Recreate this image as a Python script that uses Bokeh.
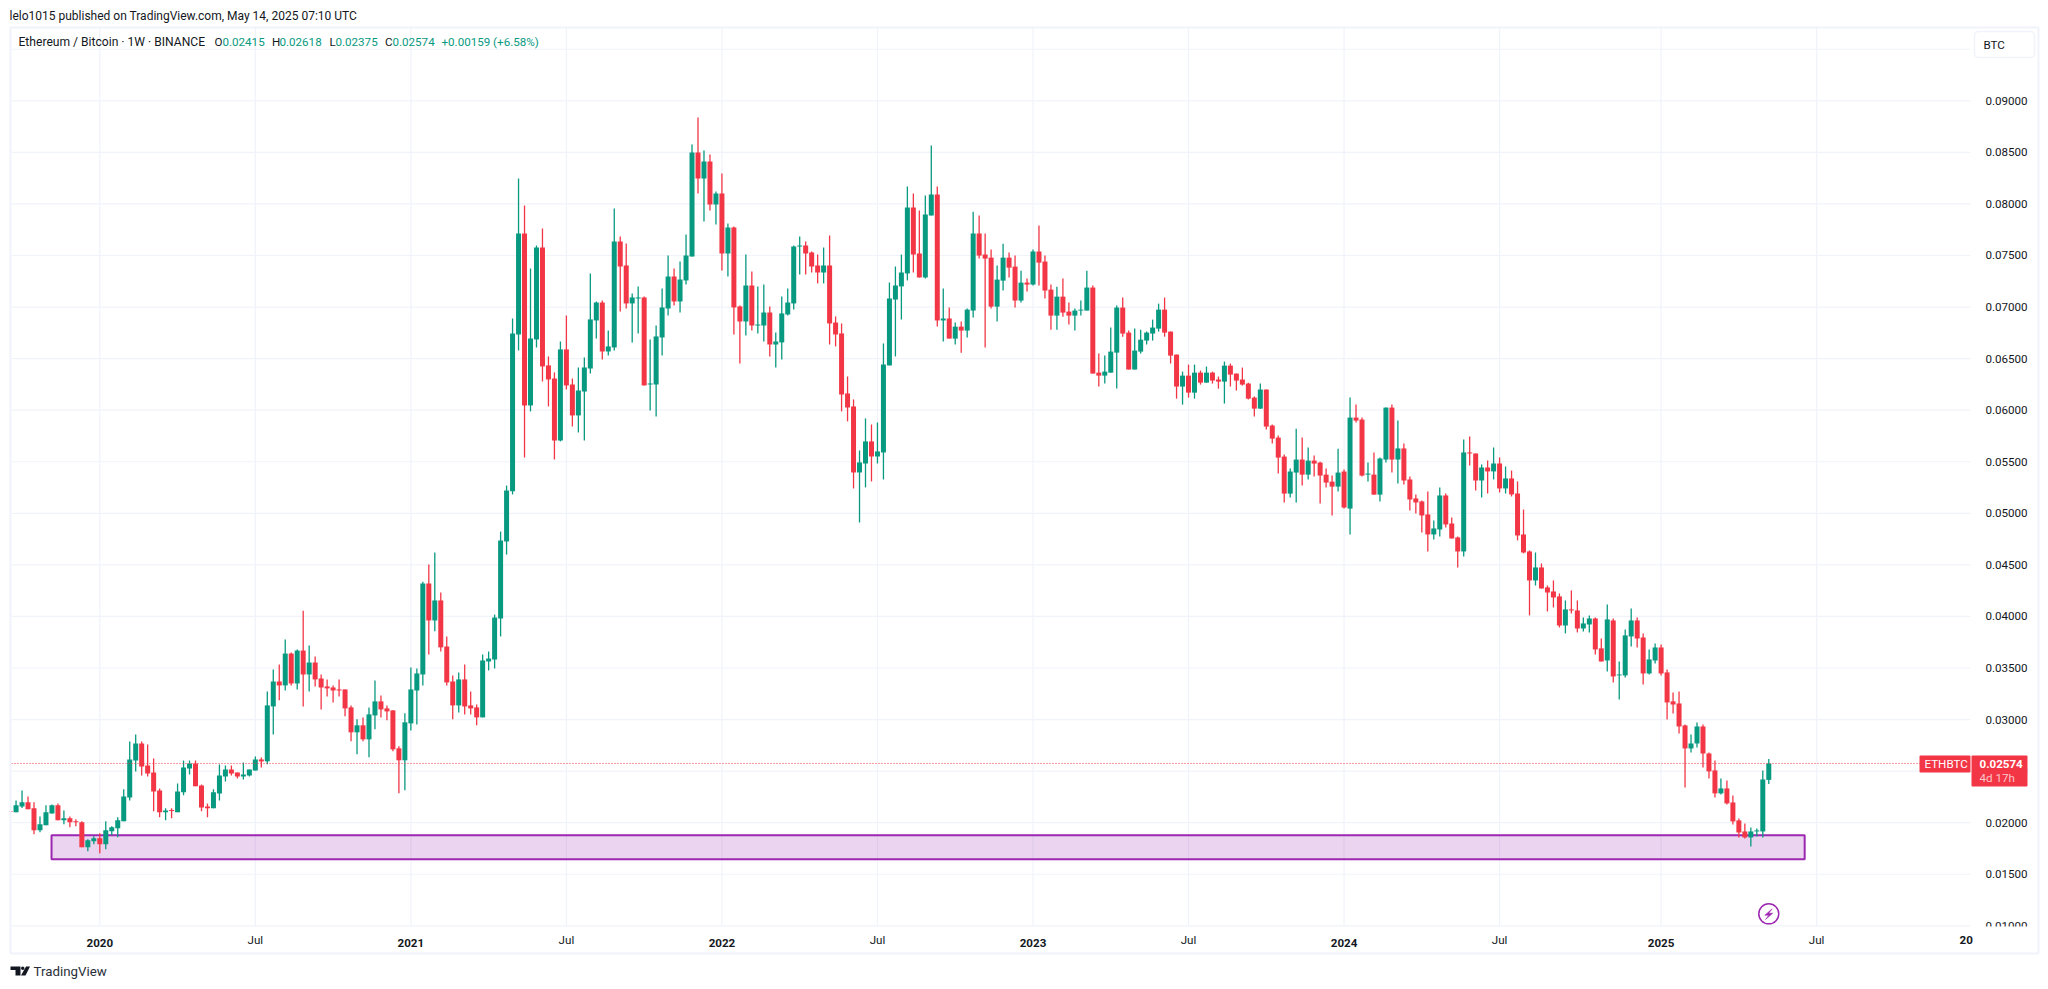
from bokeh.plotting import figure
from bokeh.embed import file_html
from bokeh.resources import INLINE
from bokeh.models import (ColumnDataSource, FixedTicker, Label, BoxAnnotation, PolyAnnotation,
                          NumeralTickFormatter, Range1d, LabelSet)
import numpy as np

# Weekly ETH/BTC candles, in units of 0.00001 BTC, one entry per week from 2019-09-23
opens = [2110,2100,2158,2197,2139,1926,1974,2090,2168,2023,
2042,2013,2003,1761,1819,1848,1790,1916,1945,2013,
2245,2603,2768,2555,2487,2313,2100,2122,2100,2294,
2526,2574,2361,2158,2139,2284,2448,2516,2487,2448,
2458,2506,2613,2595,3127,3369,3331,3640,3350,3669,
3437,3553,3398,3321,3311,3292,3292,3118,2876,2944,
2808,3040,3176,3108,3089,2721,2605,2963,3282,3437,
4319,3961,4155,3708,3369,3137,3389,3137,3118,3021,
3563,3582,3980,4727,5215,6734,7713,6046,6686,7578,
6434,6307,5706,6589,6249,5949,6181,6404,6870,7044,
6569,6608,7636,7403,7035,7083,7093,6249,6249,6705,
6986,7296,7054,7258,7490,8499,8247,8412,7995,8101,
7520,7772,7006,6860,7209,6821,6821,6947,6637,6657,
6928,7035,7587,7597,7529,7403,7335,7403,6850,6744,
6162,6036,5396,5483,5697,5551,5590,6434,7073,7200,
7326,7966,7520,7287,7888,8092,6870,6889,6694,6810,
6772,6966,7712,7509,7479,7004,7256,7479,7392,7063,
7237,7218,7538,7441,7169,6917,7101,6956,6917,6966,
6966,7189,6364,6335,6364,6558,6995,6752,6394,6568,
6675,6743,6791,6975,6762,6539,6229,6335,6170,6364,
6267,6364,6297,6277,6432,6355,6297,6258,6122,6015,
6200,5851,5734,5550,5191,5395,5521,5375,5511,5492,
5375,5307,5259,5405,5046,5928,5909,5375,5375,5181,
5521,6025,5521,5629,5328,5144,5115,4989,4795,4843,
5173,4901,4766,4630,5590,5580,5318,5444,5406,5483,
5241,5338,5192,4795,4630,4349,4475,4281,4242,4194,
3912,4068,4058,3883,3922,3980,3690,3573,3961,3428,
3428,3806,3961,3796,3447,3573,3699,3457,3176,3156,
2943,2720,2768,2933,2671,2507,2284,2332,2196,2022,
1915,1857,1915,1915,2415]
highs = [2110,2216,2313,2255,2197,2061,2168,2177,2187,2119,
2061,2032,2013,1839,1868,1897,2013,1965,2052,2323,
2787,2855,2787,2758,2623,2332,2139,2139,2381,2603,
2603,2603,2371,2187,2323,2565,2555,2555,2487,2584,
2516,2642,2632,3273,3485,3534,3776,3650,3679,4056,
3718,3611,3437,3389,3331,3389,3292,3137,3002,3021,
3118,3379,3234,3137,3089,2740,3060,3505,3495,4336,
4504,4619,4232,3805,3427,3456,3534,3273,3147,3631,
3660,4018,4823,5269,6889,8247,7985,7374,7597,7762,
6521,6366,6666,6918,6307,6414,6511,7326,7054,7064,
6773,7956,7684,7616,7132,7200,7103,6686,6821,7180,
7500,7374,7442,7704,8576,8838,8518,8479,8121,8295,
7810,7781,7015,7510,7345,7200,7219,7006,6754,7103,
7180,7597,7684,7636,7539,7510,7578,7694,6909,6841,
6327,6104,5609,5920,5861,5881,6647,7238,7393,7510,
8169,8101,7936,8082,8567,8169,7180,6995,6849,6859,
6985,7925,7887,7712,7557,7402,7615,7528,7499,7353,
7276,7557,7790,7499,7218,7198,7276,7043,6985,7063,
7353,7208,6549,6529,6801,7014,7092,6772,6791,6781,
6762,6878,7033,7092,6762,6539,6374,6442,6442,6384,
6423,6374,6326,6471,6452,6355,6413,6267,6132,6258,
6200,5860,5754,5569,5434,5821,5734,5637,5560,5501,
5434,5366,5627,5424,6122,6054,5928,5492,5589,5540,
6025,6054,5900,5677,5357,5183,5125,5212,4931,5251,
5192,4960,4775,5716,5745,5580,5474,5512,5638,5541,
5454,5415,5309,5037,4640,4620,4514,4300,4349,4223,
4155,4252,4155,3990,4009,3990,3786,4116,3980,3563,
3874,4077,3990,3835,3680,3738,3728,3486,3263,3273,
2953,2856,2972,2953,2681,2604,2429,2410,2264,2041,
1993,1954,1944,2507,2618]
lows = [2103,2100,2142,2129,1887,1906,1974,2090,2023,1984,
1955,1965,1761,1723,1790,1703,1742,1877,1858,2013,
2216,2497,2458,2448,2110,2052,2023,2042,2100,2265,
2468,2352,2110,2052,2139,2216,2400,2458,2429,2419,
2448,2506,2535,2566,2856,3186,3282,3331,3292,3127,
3273,3321,3098,3224,3166,3224,3031,2789,2663,2789,
2634,2905,3021,2992,2692,2285,2314,2895,2953,3331,
3631,3857,3660,3331,3002,3069,3050,3050,2944,3021,
3476,3495,3806,4600,5183,6579,5541,5988,6608,6278,
6036,5522,5697,6201,5842,5784,5706,6356,6695,6492,
6531,6579,6957,6986,6657,6744,6240,5997,5939,6531,
6918,7015,6947,7219,7490,8101,7830,7936,7801,7355,
7296,6734,6453,6725,6773,6744,6666,6521,6414,6492,
6918,6977,7316,7316,7335,7229,7229,6637,6618,5988,
5891,5241,4911,5251,5309,5483,5328,6434,6521,6879,
7258,7335,7287,7277,7888,6812,6666,6694,6636,6558,
6704,6898,7470,6607,6985,6859,7160,7286,6995,7043,
7150,7208,7208,7082,6781,6781,6907,6830,6772,6917,
6966,6355,6229,6258,6364,6209,6713,6394,6394,6549,
6636,6675,6762,6713,6452,6112,6054,6122,6112,6248,
6267,6258,6209,6064,6229,6190,6238,6103,5938,6015,
5812,5676,5385,5104,5152,5104,5269,5327,5356,5094,
5249,4978,5211,5046,4794,5880,5356,5308,5181,5114,
5492,5395,5289,5280,5028,4998,4814,4630,4746,4775,
4863,4756,4475,4582,5464,5221,5154,5192,5328,5202,
5192,5163,4737,4611,4010,4300,4271,4048,4087,3893,
3835,4029,3845,3854,3845,3631,3563,3466,3360,3195,
3408,3709,3699,3340,3437,3544,3428,3001,3059,2865,
2342,2681,2730,2536,2429,2245,2274,2177,1983,1857,
1847,1770,1867,1857,2375]
closes = [2103,2168,2197,2129,1926,1984,2100,2168,2023,2042,
2003,2003,1761,1829,1848,1790,1926,1955,2023,2255,
2613,2768,2545,2477,2303,2100,2119,2113,2303,2535,
2574,2352,2148,2139,2294,2458,2516,2477,2448,2468,
2516,2613,2594,3137,3369,3331,3640,3350,3669,3437,
3553,3389,3311,3302,3282,3282,3108,2876,2944,2808,
3050,3176,3098,3079,2711,2605,2973,3292,3447,4319,
3961,4155,3700,3360,3137,3389,3127,3108,3021,3573,
3592,3989,4736,5221,6744,7713,6046,6695,7578,6424,
6298,5706,6589,6240,5949,6191,6414,6880,7044,6569,
6618,7636,7393,7035,7093,7093,6240,6259,6715,6996,
7296,7054,7267,7500,8499,8247,8412,7995,8101,7520,
7772,6996,6860,7209,6821,6831,6947,6637,6666,6938,
7044,7587,7597,7520,7393,7335,7403,6841,6734,6152,
6026,5396,5493,5697,5551,5600,6443,7083,7209,7335,
7966,7510,7287,7898,8092,6870,6889,6694,6810,6772,
6975,7712,7499,7470,7004,7266,7479,7382,7063,7237,
7218,7538,7431,7160,6917,7101,6946,6917,6966,6975,
7189,6355,6335,6374,6568,6995,6743,6394,6578,6684,
6752,6801,6975,6752,6529,6229,6335,6170,6364,6267,
6364,6287,6277,6432,6345,6287,6248,6112,6015,6200,
5841,5724,5540,5191,5405,5521,5375,5511,5482,5366,
5298,5259,5395,5056,5928,5899,5366,5385,5181,5531,
6025,5521,5629,5318,5134,5105,4979,4795,4853,5173,
4892,4756,4630,5590,5580,5318,5444,5406,5483,5241,
5338,5183,4785,4620,4349,4475,4271,4232,4184,3912,
4068,4058,3883,3932,3980,3680,3563,3971,3418,3437,
3816,3961,3786,3447,3583,3699,3447,3166,3146,2933,
2720,2768,2933,2671,2497,2284,2332,2187,2012,1905,
1857,1915,1925,2419,2574]

# Tick marks: week index -> label
year_ticks = [15, 67, 119, 171, 223, 276]
year_labels = ["2020", "2021", "2022", "2023", "2024", "2025"]
jul_ticks = [41, 93, 145, 197, 249, 302]
jul_labels = ["Jul"] * 6
price_ticks = [0.01, 0.015, 0.02, 0.025, 0.03, 0.035, 0.04, 0.045, 0.05, 0.055, 0.06, 0.065, 0.07, 0.075, 0.08, 0.085, 0.09]
price_grid_extra = [0.095]

last_price = 0.02574
zone_top, zone_bottom = 0.01877, 0.01645
zone_left, zone_right = 6.93, 300.0
alert_week, alert_price = 294, 0.01116

# visible price pane, in axis units
pane_left, pane_right = 0.24, 327.72
pane_bottom, pane_top = 0.00994, 0.09711

UP, DOWN = "#089981", "#F23645"
GRID = "#F0F3FA"
TEXT = "#131722"
PURPLE = "#9C27B0"
FONT = "Roboto"
FS = "11.6px"

o, h, l, c = (np.array(a) * 1e-5 for a in (opens, highs, lows, closes))
idx = np.arange(len(o))
col = [UP if ci >= oi else DOWN for oi, ci in zip(o, c)]
src = ColumnDataSource(dict(x=idx, o=o, h=h, l=l, c=c, col=col,
                            top=np.maximum(o, c), bot=np.minimum(o, c)))

W, H = 2048, 989
# the frame fills the canvas, so that texts around the pane are not clipped
p = figure(width=W, height=H, output_backend="svg", toolbar_location=None,
           x_range=Range1d(-1.6, 340.76), y_range=Range1d(0.003823, 0.099726),
           y_axis_location="right", min_border=0, background_fill_color="white",
           border_fill_color="white", outline_line_color=None)
p.grid.visible = False

# axes
p.xaxis.fixed_location = pane_bottom
p.yaxis.fixed_location = pane_right
p.xaxis.ticker = FixedTicker(ticks=year_ticks)
p.xaxis.major_label_overrides = dict(zip(year_ticks, year_labels))
p.yaxis.ticker = FixedTicker(ticks=price_ticks)
p.yaxis.formatter = NumeralTickFormatter(format="0.00000")
for ax in (p.xaxis, p.yaxis):
    ax.axis_line_color = None
    ax.major_tick_line_color = None
    ax.minor_tick_line_color = None
    ax.major_label_text_color = TEXT
    ax.major_label_text_font = FONT
    ax.major_label_text_font_size = FS
p.yaxis.major_label_standoff = 9
p.xaxis.major_label_standoff = 7
p.xaxis.major_label_text_font_style = "bold"

# grid lines, limited to the pane
gx = year_ticks + jul_ticks
gy = price_ticks + price_grid_extra
p.segment(x0=gx, x1=gx, y0=[pane_bottom] * len(gx), y1=[pane_top] * len(gx), line_color=GRID, line_width=1.2)
p.segment(x0=[pane_left] * len(gy), x1=[pane_right] * len(gy), y0=gy, y1=gy, line_color=GRID, line_width=1.2)

# zone beneath the candles
p.quad(left=[zone_left], right=[zone_right], top=[zone_top], bottom=[zone_bottom],
       fill_color=PURPLE, fill_alpha=0.2, line_color=PURPLE, line_width=2)

# candles
p.segment(x0="x", x1="x", y0="l", y1="h", color="col", line_width=1.3, source=src)
p.vbar(x="x", width=0.836, top="top", bottom="bot", fill_color="col", line_color=None, source=src)

# last price line
last_line = p.segment(x0=[pane_left], x1=[pane_right], y0=[last_price], y1=[last_price],
                      line_color=DOWN, line_width=1)
last_line.glyph.line_dash = [1, 2]

# Jul labels under the pane
jul_src = ColumnDataSource(dict(x=jul_ticks, y=[0.00864] * 6, t=jul_labels))
p.add_layout(LabelSet(x="x", y="y", text="t", source=jul_src, text_align="center", text_baseline="middle",
                      text_font={"value": FONT}, text_font_size={"value": FS}, text_color=TEXT))

def box(x0, y0, x1, y1, **kw):
    b = BoxAnnotation(left=x0, right=x1, top=y0, bottom=y1,
                      left_units="canvas", right_units="canvas", top_units="canvas", bottom_units="canvas",
                      level="overlay", **kw)
    p.add_layout(b)

def text(x, y, t, color=TEXT, size=FS, style="normal"):
    p.add_layout(Label(x=x, y=y, x_units="canvas", y_units="canvas", text=t, text_color=color,
                       text_font=FONT, text_font_size=size, text_font_style=style,
                       text_baseline="middle", text_align="left", level="overlay"))

# hide what lies left of the pane, then the outer frame
box(0, 0, 9, 989, fill_color="white", fill_alpha=1, line_alpha=0)
box(10, 27, 2038, 953, fill_alpha=0, line_color=GRID, line_alpha=1, line_width=2)
# hide the part of the lowest price label that the pane cuts off
box(1972, 926, 2036, 938, fill_color="white", fill_alpha=1, line_alpha=0)
text(1959, 939.5, "20", style="bold")

# header and legend
text(9, 15, "lelo1015 published on TradingView.com, May 14, 2025 07:10 UTC", size="12px")
text(18, 41.5, "Ethereum / Bitcoin \u00b7 1W \u00b7 BINANCE", size="12.1px")
for x, t, col_ in [(214, "O", TEXT), (222, "0.02415", UP), (271.5, "H", TEXT), (279, "0.02618", UP),
                   (329, "L", TEXT), (335, "0.02375", UP), (384.6, "C", TEXT), (392, "0.02574", UP),
                   (441, "+0.00159 (+6.58%)", UP)]:
    text(x, 41.5, t, color=col_)

# unit button
box(1974, 31, 2034, 57, fill_color="white", fill_alpha=1, line_color=GRID, line_alpha=1, line_width=1.5, border_radius=4)
text(1983, 44.5, "BTC")

# last price tags
box(1919, 755, 1970, 772, fill_color=DOWN, fill_alpha=1, line_alpha=0, border_radius=1)
box(1971, 755, 2027, 786, fill_color=DOWN, fill_alpha=1, line_alpha=0, border_radius=1)
text(1924, 763.5, "ETHBTC", color="white")
text(1979, 763.5, "0.02574", color="white", style="bold")
text(1979, 777.5, "4d 17h", color="#FBC5CB")

# alert marker
p.scatter([alert_week], [alert_price], size=20, marker="circle", fill_color="white", line_color=PURPLE, line_width=1.5)
p.add_layout(PolyAnnotation(xs=[1771.7, 1764.3, 1768.3, 1765, 1772.3, 1768.3],
                            ys=[908.3, 914.7, 914.7, 919, 912.7, 912.7],
                            xs_units="canvas", ys_units="canvas", fill_color=PURPLE, fill_alpha=1,
                            line_color=PURPLE, line_alpha=1, line_width=0.5, level="overlay"))

# TradingView logo and wordmark
LOGO = "#131722"
for xs, ys in [([10, 20, 20, 15, 15, 10], [966, 966, 975, 975, 969.5, 969.5]),
               ([25.5, 29.5, 25, 20.5], [966, 966, 975, 975])]:
    p.add_layout(PolyAnnotation(xs=xs, ys=ys, xs_units="canvas", ys_units="canvas", fill_color=LOGO, fill_alpha=1,
                                line_alpha=0, level="overlay"))
box(20.5, 966, 24, 969.5, fill_color=LOGO, fill_alpha=1, line_alpha=0, border_radius=2)
text(33, 971, "TradingView", size="13.3px", color="#2A2E39")

open("out.html", "w").write(file_html(p, INLINE))
